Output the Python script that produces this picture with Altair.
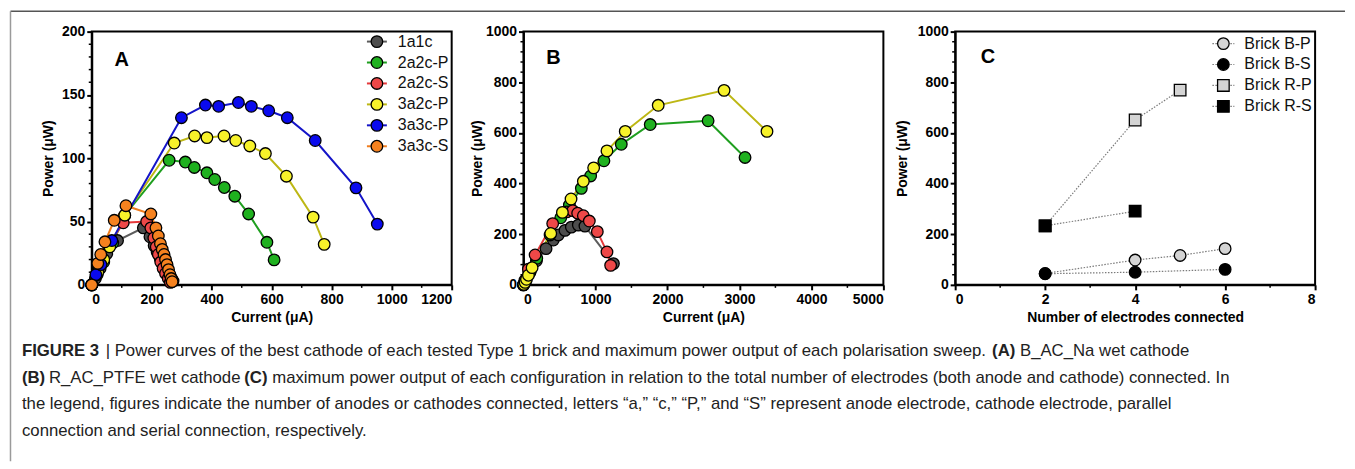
import altair as alt
import pandas as pd

FONT = "Liberation Sans"

# ---------------- Panel A data (Current µA, Power µW) ----------------
A_series = ["1a1c", "2a2c-P", "2a2c-S", "3a2c-P", "3a3c-P", "3a3c-S"]
A_1a1c_x = [0, 12, 28, 50, 86, 172, 194, 208, 218, 228, 236, 244, 252, 260, 266, 271]
A_1a1c_y = [0, 5, 13, 24.6, 35, 45, 38, 31, 26, 21, 17, 13, 10, 7, 5, 3]
A_2a2cP_x = [0, 18, 40, 70, 110, 258, 312, 342, 384, 410, 442, 477, 523, 584, 608]
A_2a2cP_y = [0, 8, 18, 33, 55, 98.4, 97, 92.7, 88.5, 83.2, 76.9, 70, 56, 33.6, 19.7]
A_2a2cS_x = [0, 15, 35, 60, 105, 183, 197, 207, 215, 222, 230, 238, 246, 255, 262]
A_2a2cS_y = [0, 8, 20, 32, 49, 50, 45, 37, 30, 24, 18, 13, 9, 5, 2]
A_3a2cP_x = [0, 20, 40, 60, 110, 275, 343, 384, 441, 480, 527, 579, 649, 738, 775]
A_3a2cP_y = [0, 10, 20, 30, 55, 112, 117.6, 116.3, 117.6, 114, 109.7, 103.7, 85.8, 53.5, 32]
A_3a3cP_x = [0, 14, 31, 67, 299, 379, 423, 489, 532, 590, 652, 745, 881, 952]
A_3a3cP_y = [0, 8, 16, 35, 132, 142, 141, 144, 141, 137.5, 132, 114, 76.6, 48]
A_3a3cS_x = [0, 20, 30, 44, 75, 114, 197, 214, 222, 229, 235, 241, 246, 251, 256, 261, 265, 268]
A_3a3cS_y = [0, 17, 24, 34, 51, 62.5, 56, 45, 38.6, 32.5, 28, 24, 20, 16, 12, 8, 5, 2.5]
A_xs = [A_1a1c_x, A_2a2cP_x, A_2a2cS_x, A_3a2cP_x, A_3a3cP_x, A_3a3cS_x]
A_ys = [A_1a1c_y, A_2a2cP_y, A_2a2cS_y, A_3a2cP_y, A_3a3cP_y, A_3a3cS_y]

# ---------------- Panel B data ----------------
B_series = ["1a1c", "2a2c-P", "2a2c-S", "3a2c-P"]
B_1a1c_x = [0, 30, 90, 180, 314, 415, 485, 577, 665, 762, 854, 1250]
B_1a1c_y = [0, 15, 50, 95, 143, 177, 197, 215, 228, 236, 232, 84]
B_2a2cP_x = [0, 25, 92, 185, 370, 518, 638, 804, 933, 1118, 1359, 1761, 2565, 3078]
B_2a2cP_y = [0, 13, 52, 105, 197, 265, 315, 381, 430, 490, 555, 633, 648, 503]
B_2a2cS_x = [0, 20, 69, 162, 406, 601, 684, 753, 832, 915, 1026, 1160, 1211]
B_2a2cS_y = [0, 18, 62, 118, 242, 288, 293, 283, 273, 252, 210, 130, 77]
B_3a2cP_x = [5, 23, 42, 69, 120, 379, 541, 661, 832, 975, 1160, 1414, 1872, 2787, 3383]
B_3a2cP_y = [2, 10, 22, 38, 68, 203, 286, 339, 409, 462, 529, 606, 709, 768, 606]
B_xs = [B_1a1c_x, B_2a2cP_x, B_2a2cS_x, B_3a2cP_x]
B_ys = [B_1a1c_y, B_2a2cP_y, B_2a2cS_y, B_3a2cP_y]

# ---------------- Panel C data ----------------
C_series = ["Brick B-P", "Brick B-S", "Brick R-P", "Brick R-S"]
C_BP_x = [2, 4, 5, 6]
C_BP_y = [45, 98, 116, 143]
C_BS_x = [2, 4, 6]
C_BS_y = [44, 50, 61]
C_RP_x = [2, 4, 5]
C_RP_y = [233, 651, 769]
C_RS_x = [2, 4]
C_RS_y = [233, 291]
C_xs = [C_BP_x, C_BS_x, C_RP_x, C_RS_x]
C_ys = [C_BP_y, C_BS_y, C_RP_y, C_RS_y]

# tick values
A_xticks = [0, 200, 400, 600, 800, 1000, 1200]
A_xminor = [100, 300, 500, 700, 900, 1100]
A_yticks = [0, 50, 100, 150, 200]
A_yminor = [10, 20, 30, 40, 60, 70, 80, 90, 110, 120, 130, 140, 160, 170, 180, 190]
B_xticks = [0, 1000, 2000, 3000, 4000, 5000]
B_xminor = [500, 1500, 2500, 3500, 4500]
P_yticks = [0, 200, 400, 600, 800, 1000]
P_yminor = [40, 80, 120, 160, 240, 280, 320, 360, 440, 480, 520, 560,
            640, 680, 720, 760, 840, 880, 920, 960]
C_xticks = [0, 2, 4, 6, 8]
C_xminor = [1, 3, 5, 7]

# styles
ABline = {"1a1c": "#5c5c5c", "2a2c-P": "#1f9f1f", "2a2c-S": "#e5393b",
          "3a2c-P": "#bdb714", "3a3c-P": "#1414c8", "3a3c-S": "#f07d1e"}
ABfill = {"1a1c": "#4d4d4d", "2a2c-P": "#1fb11f", "2a2c-S": "#ee4848",
          "3a2c-P": "#f7f22a", "3a3c-P": "#0a0aee", "3a3c-S": "#f5821f"}

W, H = 361, 254

# ---------------- caption ----------------
CAP_FS = 16.8
CAP_LINES_Y = [349, 376, 403, 430]
CAPTION = [
    [("FIGURE 3", True, 20),
     ("| Power curves of the best cathode of each tested Type 1 brick and maximum power output of each polarisation sweep.", False, 104),
     ("(A)", True, 993),
     ("B_AC_Na wet cathode", False, 1021)],
    [("(B)", True, 20),
     ("R_AC_PTFE wet cathode", False, 47),
     ("(C)", True, 243),
     ("maximum power output of each configuration in relation to the total number of electrodes (both anode and cathode) connected. In", False, 271)],
    [("the legend, figures indicate the number of anodes or cathodes connected, letters “a,” “c,” “P,” and “S” represent anode electrode, cathode electrode, parallel", False, 20)],
    [("connection and serial connection, respectively.", False, 20)],
]
A_LEFT, A_TOP = 90, 29  # page position of panel A plot area


def long_df(series, xs, ys):
    rows = []
    for k, s in enumerate(series):
        for i, (x, y) in enumerate(zip(xs[k], ys[k])):
            rows.append({"series": s, "k": k, "i": i, "x": x, "y": y})
    return pd.DataFrame(rows)


def dummy():
    return pd.DataFrame({"d": [0]})


def panel(df, series, line_rng, fill_rng, shape_rng, xdom, ydom, xticks, yticks,
          xminor, yminor, xtitle, ytitle_pad, letter, letter_xy,
          legend=None, dash=None, extra=()):
    xs = alt.Scale(domain=xdom, nice=False, zero=False)
    ys = alt.Scale(domain=ydom, nice=False, zero=False)
    xaxis = alt.Axis(values=xticks, title=xtitle, format="d", labelPadding=3, titlePadding=4)
    yaxis = alt.Axis(values=yticks, title="Power (μW)", format="d", labelPadding=2,
                     titlePadding=ytitle_pad)
    X = alt.X("x:Q", scale=xs, axis=xaxis)
    Y = alt.Y("y:Q", scale=ys, axis=yaxis)
    color = alt.Color("series:N", scale=alt.Scale(domain=series, range=line_rng), legend=None)
    fill = alt.Fill("series:N", scale=alt.Scale(domain=series, range=fill_rng), legend=None)
    shape = alt.Shape("series:N", scale=alt.Scale(domain=series, range=shape_rng), legend=None)

    line_kw = {"strokeWidth": 2}
    if dash:
        line_kw = {"strokeWidth": 1.2, "strokeDash": dash}
    lines = alt.Chart(df).mark_line(**line_kw).encode(
        x=X, y=Y, color=color, order="i:Q")
    pts = alt.Chart(df).mark_point(filled=True, size=135, stroke="black",
                                   strokeWidth=1.3, opacity=1).encode(
        x=X, y=Y, fill=fill, shape=shape, order="k:Q")
    xm = alt.Chart(pd.DataFrame({"x": xminor})).mark_rule(
        color="black", strokeWidth=1.5).encode(
        x=X, y=alt.value(H), y2=alt.value(H + 3))
    ym = alt.Chart(pd.DataFrame({"y": yminor})).mark_rule(
        color="black", strokeWidth=1.5).encode(
        y=Y, x=alt.value(0), x2=alt.value(-3))
    layers = [xm, ym, lines, pts]

    if legend is not None:
        leg_rows, leg_line, leg_sym_x, leg_txt_x = legend
        for s, ly, lc, fc, sh in zip(series, leg_rows, line_rng, fill_rng, shape_rng):
            layers.append(alt.Chart(dummy()).mark_rule(color=lc, **line_kw).encode(
                x=alt.value(leg_line[0]), x2=alt.value(leg_line[1]), y=alt.value(ly)))
            layers.append(alt.Chart(dummy()).mark_point(
                filled=True, size=135, fill=fc, shape=sh, stroke="black",
                strokeWidth=1.3, opacity=1).encode(x=alt.value(leg_sym_x), y=alt.value(ly)))
            layers.append(alt.Chart(dummy()).mark_text(
                text=s, align="left", baseline="middle", font=FONT, fontSize=16,
                color="#111").encode(x=alt.value(leg_txt_x), y=alt.value(ly)))
    layers.append(alt.Chart(dummy()).mark_text(text=letter, align="center", baseline="middle",
                                               font=FONT, fontSize=20, fontWeight="bold",
                                               color="black").encode(
        x=alt.value(letter_xy[0]), y=alt.value(letter_xy[1])))
    layers.extend(extra)
    return alt.layer(*layers).properties(width=W, height=H)


# figure frame and caption, drawn relative to panel A's plot area
frame_caption = [
    alt.Chart(dummy()).mark_rule(color="#555555", strokeWidth=1.5).encode(
        x=alt.value(-81.5), x2=alt.value(1257), y=alt.value(-20.5)),
    alt.Chart(dummy()).mark_rule(color="#9a9a9a", strokeWidth=1.5).encode(
        x=alt.value(-81.5), y=alt.value(-20.5), y2=alt.value(431)),
]
for ln, segs in enumerate(CAPTION):
    for txt, bold, px in segs:
        frame_caption.append(
            alt.Chart(dummy()).mark_text(
                text=txt, align="left", baseline="middle", font=FONT, fontSize=CAP_FS,
                fontWeight="bold" if bold else "normal", color="#222222").encode(
                x=alt.value(px - A_LEFT), y=alt.value(CAP_LINES_Y[ln] - A_TOP)))

dfA = long_df(A_series, A_xs, A_ys)
dfB = long_df(B_series, B_xs, B_ys)
dfC = long_df(C_series, C_xs, C_ys)

pA = panel(dfA, A_series, [ABline[s] for s in A_series], [ABfill[s] for s in A_series],
           ["circle"] * 6, [0, 1200], [0, 200], A_xticks, A_yticks, A_xminor, A_yminor,
           "Current (μA)", 6, "A", (30, 28),
           legend=([10, 31, 52, 73, 94, 115], (276, 296), 286, 307), extra=frame_caption)
pB = panel(dfB, B_series, [ABline[s] for s in B_series], [ABfill[s] for s in B_series],
           ["circle"] * 4, [0, 5000], [0, 1000], B_xticks, P_yticks, B_xminor, P_yminor,
           "Current (μA)", 1, "B", (30, 26))
pC = panel(dfC, C_series, ["#7a7a7a"] * 4, ["#d4d4d4", "#000000", "#d4d4d4", "#000000"],
           ["circle", "circle", "square", "square"], [0, 8], [0, 1000], C_xticks, P_yticks,
           C_xminor, P_yminor, "Number of electrodes connected", 8, "C", (33, 25),
           legend=([12, 33, 54, 75], (258, 280), 269, 290), dash=[1.5, 1.5])

chart = alt.hconcat(pA, pB, pC, spacing=72, bounds="flush").resolve_scale(
    color="independent", fill="independent", shape="independent"
).properties(padding=0, background="white"
).configure_view(stroke="black", strokeWidth=2).configure_axis(
    domainColor="black", domainWidth=2, tickColor="black", tickWidth=2, tickSize=5,
    labelFont=FONT, labelFontSize=14, labelFontWeight="bold", labelColor="black",
    titleFont=FONT, titleFontSize=14, titleFontWeight="bold", titleColor="black",
    grid=False)

chart.save("out.html", embed_options={"renderer": "svg", "actions": False})
